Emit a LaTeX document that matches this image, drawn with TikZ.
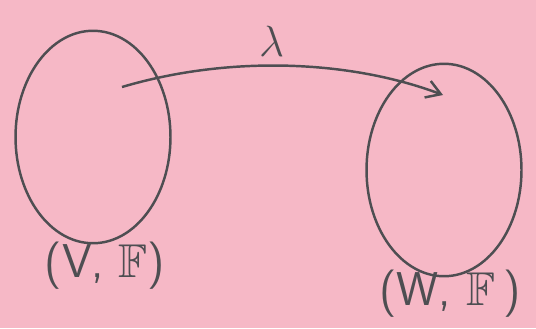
\documentclass[tikz,border=0pt]{standalone}
\usepackage{amssymb,amsmath,xcolor}
\usetikzlibrary{shapes.geometric, arrows.meta}
\definecolor{paper}{RGB}{246,184,198}
\definecolor{pencil}{RGB}{78,78,82}

\begin{document}
\begin{tikzpicture}[x=0.02cm, y=-0.02cm, line width=1.4pt, draw=pencil,
        space/.style={draw=pencil, ellipse, minimum width=3.1cm, minimum height=4.25cm},
        tag/.style={text=pencil, font=\sffamily\fontsize{27}{32}\selectfont}]
                \fill[paper] (0,0) rectangle (536,328);
                \useasboundingbox (0,0) rectangle (536,328);

                \node[space] (V space) at (93,137) {};
                \node[space] (W space) at (444,170) {};
                \node[tag] (V label) at (105,266) {(V, $\mathbb{F}$)};
                \node[tag] (W label) at (450,294) {(W, $\mathbb{F}$\,)};

                \coordinate (from) at (122,87);
                \coordinate (to) at (443,95);
                \draw[pencil, -{Straight Barb[length=8pt, width=10pt]}] (from) .. controls (230,55) and (350,60) .. (to)
                    node[pos=0.45, above=1pt, text=pencil, font=\fontsize{28}{32}\selectfont] (lambda) {$\lambda$};

            \end{tikzpicture}
\end{document}
